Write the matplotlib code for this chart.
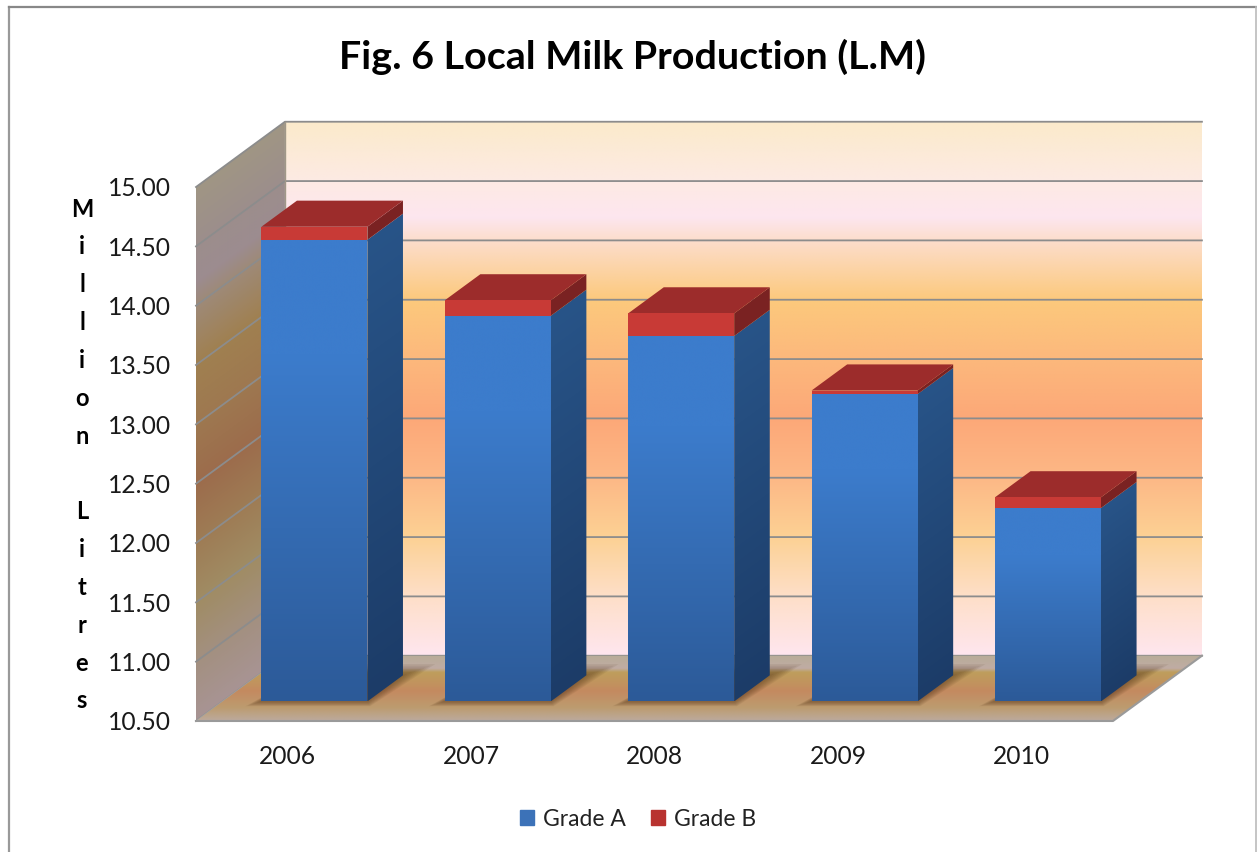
import matplotlib
matplotlib.use("Agg")
import matplotlib.pyplot as plt
import numpy as np
from matplotlib.colors import to_rgb
from matplotlib.lines import Line2D
from matplotlib.patches import Patch, Polygon

years = ["2006", "2007", "2008", "2009", "2010"]
grade_a = [14.39, 13.75, 13.58, 13.09, 12.13]
grade_b = [0.11, 0.13, 0.19, 0.03, 0.09]
y_ticks = [10.5, 11.0, 11.5, 12.0, 12.5, 13.0, 13.5, 14.0, 14.5, 15.0]

W, H = 1257, 852
BASE, TOP = 10.5, 15.0
DX, DY = 0.485, 0.55  # oblique shift of the back wall, in data units
D0, D1 = 0.30, 0.70   # where bars start and end in depth
BAR_W = 0.578

plt.rcParams["font.family"] = ["Lato", "DejaVu Sans"]

fig = plt.figure(figsize=(W / 100, H / 100), dpi=100)
ax = fig.add_axes([196 / W, 1 - 721 / H, 917 / W, 534 / H])
ax.set_xlim(0, 5)
ax.set_ylim(BASE, TOP)


def proj(x, v, d):
    return (x + d * DX, v + d * DY)


def grad_fill(pts, stops, func, z):
    # gradient image cut to a polygon, func gives the position along the stops
    poly = Polygon(pts, closed=True, fc="none", ec="none", clip_on=False, zorder=z)
    ax.add_patch(poly)
    pts = np.array(pts)
    xs = np.linspace(pts[:, 0].min(), pts[:, 0].max(), 300)
    ys = np.linspace(pts[:, 1].min(), pts[:, 1].max(), 400)
    xx, yy = np.meshgrid(xs, ys)
    t = func(xx, yy)
    pos = [s[0] for s in stops]
    cols = np.array([to_rgb(s[1]) for s in stops])
    img = np.dstack([np.interp(t, pos, cols[:, i]) for i in range(3)])
    im = ax.imshow(img, origin="lower", aspect="auto", interpolation="bilinear",
                   extent=(xs[0], xs[-1], ys[0], ys[-1]), zorder=z)
    im.set_clip_box(fig.bbox)
    im.set_clip_path(poly)


wall_stops = [(10.5, "#FEE6EF"), (11.0, "#FEDFC8"), (11.5, "#FCD194"), (12.0, "#FDB886"),
              (12.5, "#FCA878"), (13.0, "#FCB87C"), (13.5, "#FCC97C"), (14.0, "#FCDDCB"),
              (14.2, "#FDE6EF"), (14.5, "#FDEAE4"), (15.0, "#FBEACB")]
side_stops = [(10.5, "#A89494"), (11.0, "#A39080"), (11.5, "#A08C64"), (12.0, "#9E7C55"),
              (12.5, "#9C6C4C"), (13.0, "#9E7850"), (13.5, "#A08050"), (14.0, "#9E8A78"),
              (14.2, "#9C8C90"), (14.5, "#9C8E8C"), (15.0, "#A09684")]
floor_stops = [(0, "#BCAA9E"), (0.2, "#BC9C70"), (0.45, "#C48A60"), (0.74, "#BE9E5C"),
               (0.8, "#C0ACA4"), (1, "#B8AC98")]

# back wall
grad_fill([proj(0, BASE, 1), proj(5, BASE, 1), proj(5, TOP, 1), proj(0, TOP, 1)],
          wall_stops, lambda xx, yy: yy - DY, 1)
# left wall
grad_fill([proj(0, BASE, 0), proj(0, BASE, 1), proj(0, TOP, 1), proj(0, TOP, 0)],
          side_stops, lambda xx, yy: yy - xx / DX * DY, 1)

# gridlines on both walls
for v in y_ticks:
    a, b, c = proj(0, v, 0), proj(0, v, 1), proj(5, v, 1)
    ax.plot([a[0], b[0], c[0]], [a[1], b[1], c[1]], color="#8C8C8C", lw=1.3,
            clip_on=False, zorder=2)
ax.plot(*zip(proj(0, BASE, 0), proj(0, BASE, 1)), color="#A0A0A0", lw=1, clip_on=False, zorder=2)
ax.plot(*zip(proj(0, BASE, 1), proj(0, TOP, 1)), color="#A09888", lw=1, clip_on=False, zorder=2)

# floor
floor = [proj(0, BASE, 0), proj(5, BASE, 0), proj(5, BASE, 1), proj(0, BASE, 1)]
grad_fill(floor, floor_stops, lambda xx, yy: (yy - BASE) / DY, 3)
ax.plot(*zip(proj(0, BASE, 0), proj(5, BASE, 0), proj(5, BASE, 1)), color="#9A9A9A", lw=1.5,
        clip_on=False, zorder=4)

centers = np.arange(len(years)) + 0.5

a_vals = np.array(grade_a)
b_vals = np.array(grade_b)

# soft shadows on the floor
for l, r in zip(centers - BAR_W / 2, centers + BAR_W / 2):
    for k in range(1, 8):
        e = 0.012 * k
        ed = 0.035 * k
        pts = [proj(l - e * 0.6, BASE, D0 - ed * 0.3), proj(r + e * 0.6, BASE, D0 - ed * 0.3),
               proj(r + e * 1.1, BASE, D1 + ed * 0.7), proj(l + e * 0.6, BASE, D1 + ed * 0.7)]
        ax.add_patch(Polygon(pts, closed=True, fc="#4A2C10", ec="none", alpha=0.08,
                             zorder=5, clip_on=False))

blue_stops = [(0, "#2C5A98"), (0.75, "#3C7CCC"), (1, "#3C7CCC")]
side_blue = [(0, "#1C3C68"), (1, "#285488")]

for i in range(len(years)):
    z = 10 + i
    l = centers[i] - BAR_W / 2
    r = centers[i] + BAR_W / 2
    va = a_vals[i]
    vb = va + b_vals[i]
    base = BASE + D0 * DY
    h = va + D0 * DY - base

    # blue side
    side = [proj(r, BASE, D0), proj(r, BASE, D1), proj(r, va, D1), proj(r, va, D0)]
    grad_fill(side, side_blue,
              lambda xx, yy, r=r, h=h: (yy - base - (xx - r - D0 * DX) / DX * DY) / h, z)
    # blue front
    front = [proj(l, BASE, D0), proj(r, BASE, D0), proj(r, va, D0), proj(l, va, D0)]
    grad_fill(front, blue_stops, lambda xx, yy, h=h: (yy - base) / h, z)

    # red part
    ax.add_patch(Polygon([proj(r, va, D0), proj(r, va, D1), proj(r, vb, D1), proj(r, vb, D0)],
                         closed=True, fc="#7A2222", ec="none", clip_on=False, zorder=z + 0.1))
    ax.add_patch(Polygon([proj(l, vb, D0), proj(r, vb, D0), proj(r, vb, D1), proj(l, vb, D1)],
                         closed=True, fc="#9C2C2B", ec="none", clip_on=False, zorder=z + 0.1))
    ax.bar(l + BAR_W / 2 + D0 * DX, b_vals[i], bottom=va + D0 * DY, width=BAR_W,
           color="#C83A36", zorder=z + 0.1, clip_on=False)

ax.set_xlim(0, 5)
ax.set_ylim(BASE, TOP)

for s in ax.spines.values():
    s.set_visible(False)
ax.patch.set_visible(False)
ax.set_xticks(centers, years)
ax.set_yticks(y_ticks, [f"{v:.2f}" for v in y_ticks])
ax.tick_params(axis="both", length=0, labelsize=17.7, labelcolor="#1A1A1A")
ax.tick_params(axis="y", pad=18)
ax.tick_params(axis="x", pad=17)

ax.set_ylabel("M\ni\nl\nl\ni\no\nn\n \nL\ni\nt\nr\ne\ns", rotation=0, fontsize=17, fontweight="bold",
              ha="center", va="center", ma="center", linespacing=1.78, color="black")
ax.yaxis.set_label_coords((82 - 196) / 917, (721 - 455) / 534)

fig.text(632.5 / W, 1 - 57 / H, "Fig. 6 Local Milk Production (L.M)", ha="center", va="center",
         fontsize=28.4, fontweight="bold", color="black")

handles = [Patch(color="#3C72B8", label="Grade A"), Patch(color="#B8322F", label="Grade B")]
fig.legend(handles=handles, loc="center", bbox_to_anchor=(638 / W, 1 - 819 / H), ncol=2,
           frameon=False, fontsize=16.5, handlelength=0.6, handleheight=0.6,
           handletextpad=0.4, columnspacing=1.1, labelcolor="#222222")

# chart frame, the bottom edge is cut off in the picture
fig.add_artist(Line2D([8.5 / W, 8.5 / W], [0, 1 - 7 / H], color="#999999", lw=1.6))
fig.add_artist(Line2D([8.5 / W, 1256 / W], [1 - 7 / H, 1 - 7 / H], color="#888888", lw=1.6))
fig.add_artist(Line2D([1256 / W, 1256 / W], [0, 1 - 7 / H], color="#BBBBBB", lw=1.2))

fig.savefig("out.png", dpi=100)
